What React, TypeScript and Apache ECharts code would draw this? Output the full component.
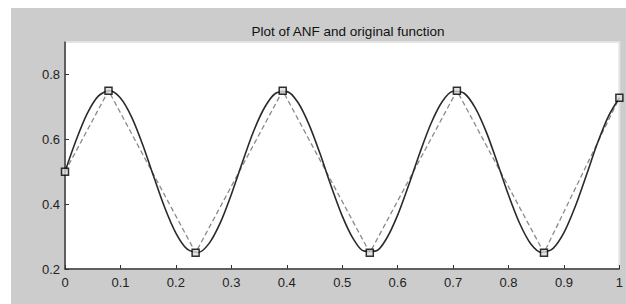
import React, { useEffect, useRef } from "react";
import * as echarts from "echarts";

const titleText = "Plot of ANF and original function";

// Original function
const curveX = [
  0, 0.02, 0.04, 0.06, 0.08, 0.1, 0.12, 0.14, 0.16, 0.18, 0.2, 0.22, 0.24, 0.26, 0.28, 0.3, 0.32, 0.34, 0.36, 0.38,
  0.4, 0.42, 0.44, 0.46, 0.48, 0.5, 0.52, 0.54, 0.56, 0.58, 0.6, 0.62, 0.64, 0.66, 0.68, 0.7, 0.72, 0.74, 0.76, 0.78,
  0.8, 0.82, 0.84, 0.86, 0.88, 0.9, 0.92, 0.94, 0.96, 0.98, 1.0,
];
const curveY = [
  0.5, 0.597, 0.679, 0.733, 0.75, 0.727, 0.669, 0.584, 0.485, 0.389, 0.311, 0.262, 0.251, 0.279, 0.342, 0.43, 0.529,
  0.624, 0.698, 0.742, 0.747, 0.714, 0.646, 0.556, 0.456, 0.364, 0.293, 0.255, 0.255, 0.294, 0.366, 0.459, 0.558,
  0.648, 0.715, 0.748, 0.742, 0.697, 0.622, 0.527, 0.428, 0.341, 0.278, 0.251, 0.263, 0.312, 0.391, 0.487, 0.586,
  0.67, 0.728,
];

// ANF samples (square markers joined by dashed line)
const anfX = [0, 0.0785, 0.2356, 0.3927, 0.5498, 0.7069, 0.864, 1.0];
const anfY = [0.5, 0.75, 0.25, 0.75, 0.25, 0.75, 0.25, 0.728];

const xTicks = [0, 0.1, 0.2, 0.3, 0.4, 0.5, 0.6, 0.7, 0.8, 0.9, 1];
const yTicks = [0.2, 0.4, 0.6, 0.8];

export default function App() {
  const ref = useRef<HTMLDivElement>(null);
  useEffect(() => {
    if (!ref.current) return;
    const chart = echarts.init(ref.current, null, { renderer: "svg" });
    const font = "'Liberation Sans', Arial, sans-serif";
    chart.setOption({
      animation: false,
      backgroundColor: "#cccccc",
      title: {
        text: titleText,
        left: 332,
        top: 11,
        textAlign: "center",
        textStyle: { fontFamily: font, fontSize: 13.5, fontWeight: "normal", color: "#111" },
      },
      grid: {
        left: 54,
        right: 4,
        top: 34,
        bottom: 35,
        show: true,
        backgroundColor: "#ffffff",
        borderColor: "#e4e4e4",
        borderWidth: 2,
      },
      xAxis: {
        type: "value",
        min: 0,
        max: 1,
        interval: 0.1,
        splitLine: { show: false },
        axisLine: { show: true, onZero: false, lineStyle: { color: "#333", width: 1.5 } },
        axisTick: { show: true, inside: true, length: 4, customValues: xTicks, lineStyle: { color: "#333" } },
        axisLabel: {
          customValues: xTicks,
          margin: 7,
          fontFamily: font,
          fontSize: 13,
          color: "#222",
          formatter: (v: number) => String(Number(v.toFixed(1))),
        },
      },
      yAxis: {
        type: "value",
        min: 0.2,
        max: 0.9,
        interval: 0.2,
        splitLine: { show: false },
        axisLine: { show: true, onZero: false, lineStyle: { color: "#333", width: 1.5 } },
        axisTick: { show: true, inside: true, length: 4, customValues: yTicks, lineStyle: { color: "#333" } },
        axisLabel: {
          customValues: yTicks,
          margin: 5,
          fontFamily: font,
          fontSize: 13,
          color: "#222",
          formatter: (v: number) => v.toFixed(1),
        },
      },
      series: [
        {
          type: "line",
          data: anfX.map((x, i) => [x, anfY[i]]),
          symbol: "none",
          lineStyle: { color: "#8a8a8a", width: 1.3, type: [5, 3] },
          z: 2,
        },
        {
          type: "line",
          data: curveX.map((x, i) => [x, curveY[i]]),
          symbol: "none",
          smooth: 0.3,
          lineStyle: { color: "#2a2a2a", width: 1.6 },
          z: 3,
        },
        {
          type: "scatter",
          data: anfX.map((x, i) => [x, anfY[i]]),
          symbol: "rect",
          symbolSize: 7,
          itemStyle: { color: "#dcdcdc", borderColor: "#000", borderWidth: 1.5 },
          z: 4,
        },
      ],
    });
    return () => chart.dispose();
  }, []);
  return (
    <div
      ref={ref}
      style={{ position: "absolute", left: 11, top: 8, width: 615, height: 296 }}
    />
  );
}
